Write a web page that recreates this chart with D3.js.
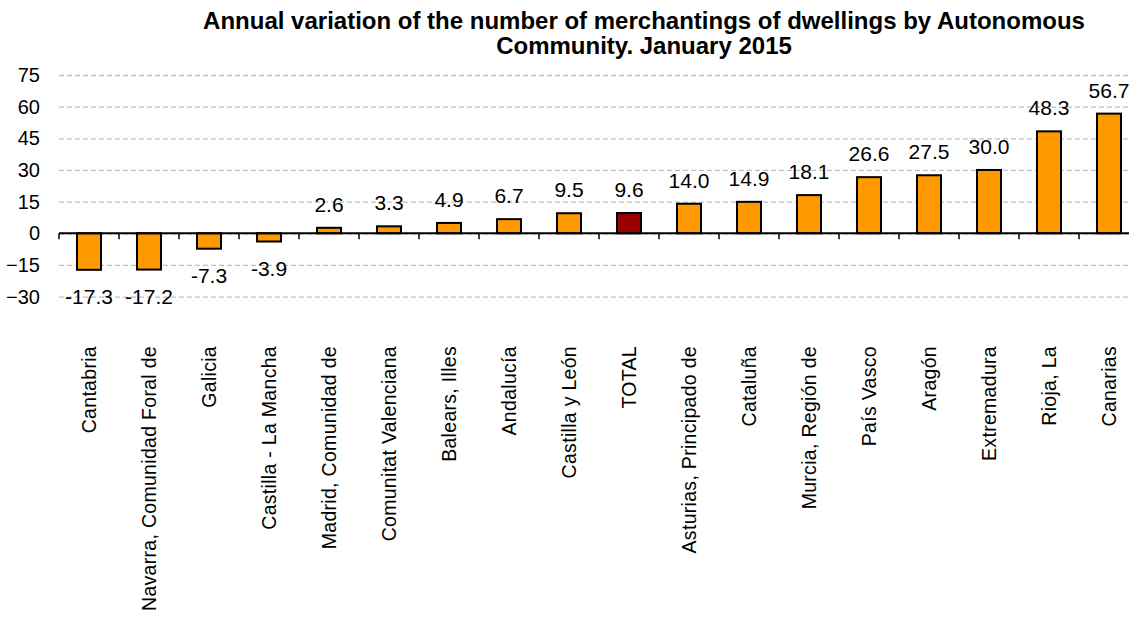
<!doctype html>
<html>
  <head>
    <meta charset="utf-8">
    <script src="https://cdnjs.cloudflare.com/ajax/libs/d3/7.8.5/d3.min.js"></script>
    <style>
      body { margin: 0; background: #fff; }
      text { font-family: Arial, "Liberation Sans", sans-serif; fill: #000; }
      .grid line { stroke: #bfbfbf; stroke-dasharray: 5 3; stroke-width: 1.3; }
      .grid .domain { display: none; }
      .yaxis .domain, .yaxis line { display: none; }
      rect.bar { stroke: #000; stroke-width: 2; }
    </style>
  </head>
  <body>
    <svg id="chart" width="1129" height="631"></svg>
    <script>
      // values
      var regions = ["Cantabria", "Navarra, Comunidad Foral de", "Galicia", "Castilla - La Mancha",
        "Madrid, Comunidad de", "Comunitat Valenciana", "Balears, Illes", "Andalucía",
        "Castilla y León", "TOTAL", "Asturias, Principado de", "Cataluña", "Murcia, Región de",
        "País Vasco", "Aragón", "Extremadura", "Rioja, La", "Canarias"];
      var variation = [-17.3, -17.2, -7.3, -3.9, 2.6, 3.3, 4.9, 6.7, 9.5, 9.6, 14.0, 14.9, 18.1,
        26.6, 27.5, 30.0, 48.3, 56.7];
      var yTicks = [-30, -15, 0, 15, 30, 45, 60, 75];
      var titleLines = ["Annual variation of the number of merchantings of dwellings by Autonomous",
        "Community. January 2015"];

      var svg = d3.select("#chart");
      var plotL = 59, plotR = 1139, plotT = 75, plotB = 296.6;

      var x = d3.scaleBand().domain(regions).range([plotL, plotR]).paddingInner(0.6).paddingOuter(0.3);
      var y = d3.scaleLinear().domain([-30, 75]).range([plotB, plotT]);

      // title
      svg.append("g").selectAll("text").data(titleLines).enter().append("text")
        .attr("x", 644).attr("y", (d, i) => 29 + i * 25)
        .attr("text-anchor", "middle")
        .style("font-size", "24px").style("font-weight", "bold")
        .text(d => d);

      // dashed gridlines
      svg.append("g").attr("class", "grid")
        .attr("transform", "translate(" + plotL + ",0)")
        .call(d3.axisRight(y).tickValues(yTicks).tickSize(plotR - plotL).tickFormat(""));

      // y tick labels
      svg.append("g").attr("class", "yaxis")
        .attr("transform", "translate(" + (plotL - 19) + ",0)")
        .call(d3.axisLeft(y).tickValues(yTicks).tickSize(0).tickPadding(0))
        .selectAll("text").style("font-size", "20px")
        .attr("font-family", null).attr("fill", null);

      // bars
      svg.append("g").selectAll("rect").data(variation).enter().append("rect")
        .attr("class", "bar")
        .attr("x", (d, i) => x(regions[i]))
        .attr("width", x.bandwidth())
        .attr("y", d => y(Math.max(0, d)))
        .attr("height", d => Math.abs(y(d) - y(0)))
        .attr("fill", (d, i) => regions[i] === "TOTAL" ? "#990000" : "#ff9900");

      // zero axis with ticks between categories
      var zero = svg.append("g");
      zero.append("line").attr("x1", plotL).attr("x2", plotR)
        .attr("y1", y(0)).attr("y2", y(0)).attr("stroke", "#000").attr("stroke-width", 2);
      zero.selectAll("line.tk").data(d3.range(regions.length + 1)).enter().append("line")
        .attr("class", "tk")
        .attr("x1", i => plotL + i * x.step()).attr("x2", i => plotL + i * x.step())
        .attr("y1", y(0)).attr("y2", y(0) + 6).attr("stroke", "#000").attr("stroke-width", 1.5);

      // value labels
      svg.append("g").selectAll("text").data(variation).enter().append("text")
        .attr("x", (d, i) => x(regions[i]) + x.bandwidth() / 2)
        .attr("y", d => d >= 0 ? y(d) - 16 : y(d) + 34)
        .attr("text-anchor", "middle")
        .style("font-size", "21px")
        .text(d => d.toFixed(1));

      // category labels, rotated
      svg.append("g").selectAll("text").data(regions).enter().append("text")
        .attr("transform", d => "translate(" + (x(d) + x.bandwidth() / 2) + ",346) rotate(-90)")
        .attr("text-anchor", "end").attr("dy", "0.35em")
        .style("font-size", "19.5px").style("letter-spacing", "0.3px")
        .text(d => d);
    </script>
  </body>
</html>
